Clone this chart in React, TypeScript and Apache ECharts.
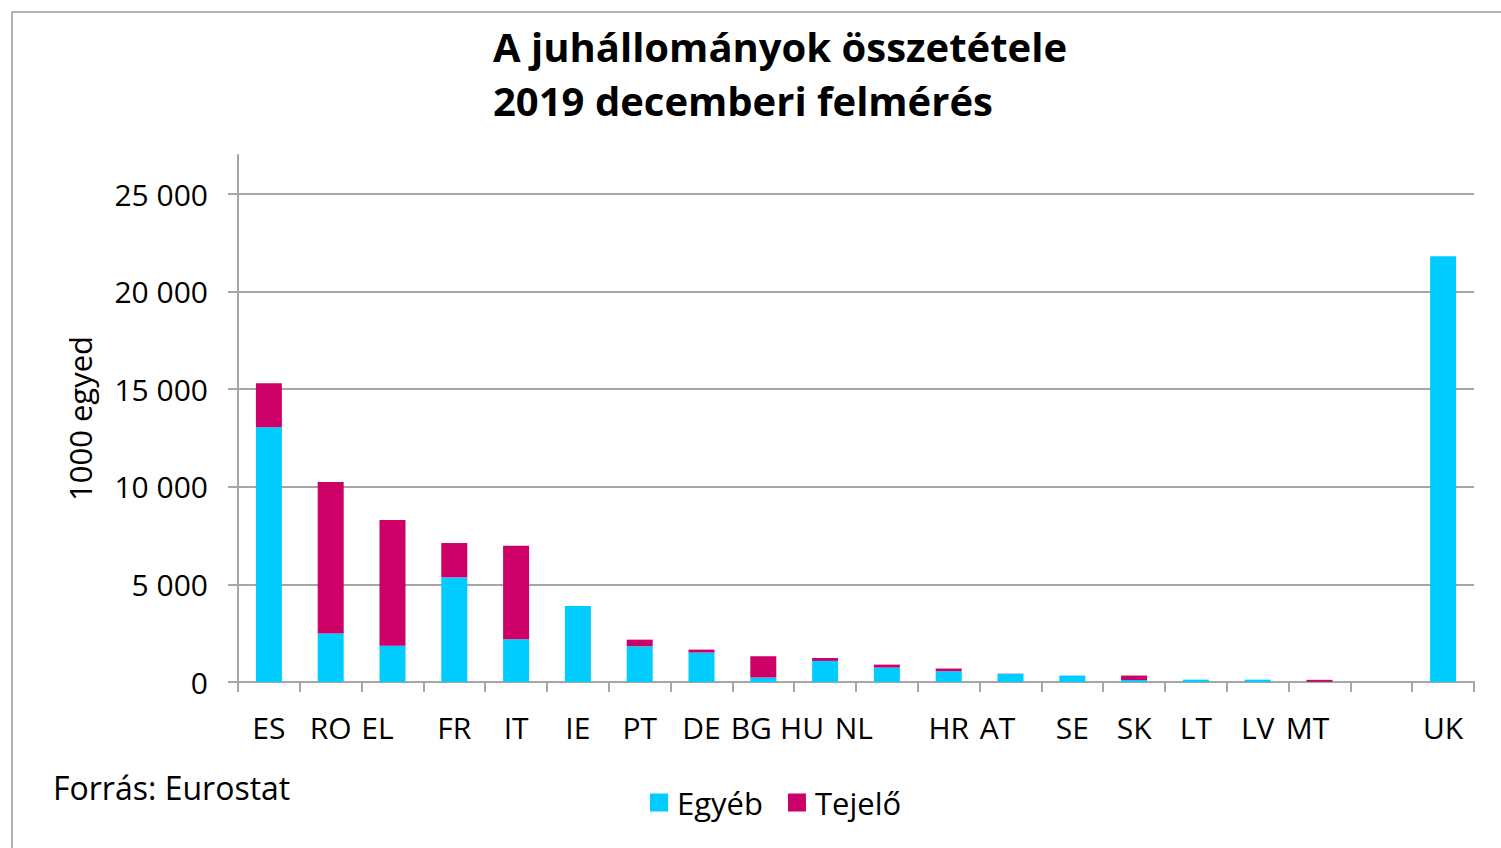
import React, { useEffect, useRef } from "react";
import * as echarts from "echarts";

const categories = ["ES", "RO", "EL", "FR", "IT", "IE", "PT", "DE", "BG", "HU", "NL", "HR", "AT", "SE", "SK", "LT", "LV", "MT", "", "UK"];
const egyeb = [13050, 2490, 1860, 5360, 2190, 3890, 1830, 1510, 230, 1080, 740, 550, 420, 330, 100, 120, 120, 10, null, 21810];
const tejelo = [2250, 7760, 6440, 1760, 4790, 0, 340, 150, 1090, 150, 150, 140, 10, 0, 230, 0, 0, 100, null, 0];
const yTicks = [0, 5000, 10000, 15000, 20000, 25000];

const titleText = "A juhállományok összetétele\n2019 decemberi felmérés";
const sourceText = "Forrás: Eurostat";
const yName = "1000 egyed";

// label shift styles (visual offset of some category labels in the original)
const labelPad: Record<string, number> = { EL: 30, BG: 24, HU: 46, NL: 66, AT: 26, MT: 24 };

const FONT = "'Open Sans', 'Noto Sans', sans-serif";
const GRID_COLOR = "#a6a6a6";

function fmt(v: number) {
  return String(v).replace(/\B(?=(\d{3})+(?!\d))/g, " ");
}

export default function App() {
  const ref = useRef<HTMLDivElement>(null);
  useEffect(() => {
    if (!ref.current) return;
    const chart = echarts.init(ref.current, null, { renderer: "svg" });
    const rich: Record<string, any> = {};
    Object.keys(labelPad).forEach((k) => {
      rich["p" + k] = { fontSize: 30, fontFamily: FONT, color: "#000", padding: [0, labelPad[k], 0, 0] };
    });
    chart.setOption({
      animation: false,
      backgroundColor: "#fff",
      title: {
        text: titleText,
        left: 493,
        top: 19,
        padding: 0,
        textStyle: { fontFamily: FONT, fontWeight: "bold", fontSize: 40, lineHeight: 54, color: "#000" },
      },
      legend: {
        left: 650,
        top: 787,
        padding: 0,
        itemWidth: 18,
        itemHeight: 18,
        itemGap: 25,
        icon: "rect",
        data: ["Egyéb", "Tejelő"],
        textStyle: { fontFamily: FONT, fontSize: 31, lineHeight: 30, color: "#000", padding: [0, 0, 0, 4] },
      },
      grid: { left: 238, right: 27, top: 155, bottom: 166 },
      xAxis: {
        type: "category",
        data: categories,
        boundaryGap: true,
        axisLine: { lineStyle: { color: GRID_COLOR, width: 2 } },
        axisTick: { show: true, length: 10, lineStyle: { color: GRID_COLOR, width: 2 } },
        axisLabel: {
          interval: 0,
          margin: 30,
          fontFamily: FONT,
          fontSize: 30,
          color: "#000",
          rich,
          formatter: (v: string) => (labelPad[v] ? `{p${v}|${v}}` : v),
        },
      },
      yAxis: {
        type: "value",
        min: 0,
        max: 27000,
        interval: 5000,
        name: yName,
        nameLocation: "middle",
        nameGap: 143,
        nameTextStyle: { fontFamily: FONT, fontSize: 31, color: "#000" },
        axisLine: { show: true, lineStyle: { color: GRID_COLOR, width: 2 } },
        axisTick: { show: true, length: 10, customValues: yTicks, lineStyle: { color: GRID_COLOR, width: 2 } },
        axisLabel: {
          margin: 30,
          fontFamily: FONT,
          fontSize: 30,
          color: "#000",
          customValues: yTicks,
          formatter: (v: number) => fmt(v),
        },
        splitLine: { show: true, lineStyle: { color: GRID_COLOR, width: 2 } },
      },
      series: [
        {
          name: "Egyéb",
          type: "bar",
          stack: "total",
          data: egyeb,
          barWidth: 26,
          itemStyle: { color: "#00CCFF" },
        },
        {
          name: "Tejelő",
          type: "bar",
          stack: "total",
          data: tejelo,
          barWidth: 26,
          itemStyle: { color: "#CC0066" },
        },
      ],
      graphic: [
        {
          type: "rect",
          shape: { x: 12, y: 12, width: 1600, height: 1000 },
          style: { fill: "none", stroke: "#b3b3b3", lineWidth: 2 },
          silent: true,
        },
        {
          type: "text",
          left: 53,
          top: 771,
          style: { text: sourceText, fontFamily: FONT, fontSize: 32, fill: "#000" },
        },
      ],
    });
    return () => chart.dispose();
  }, []);
  return <div ref={ref} style={{ position: "fixed", left: 0, top: 0, width: 1501, height: 848 }} />;
}
